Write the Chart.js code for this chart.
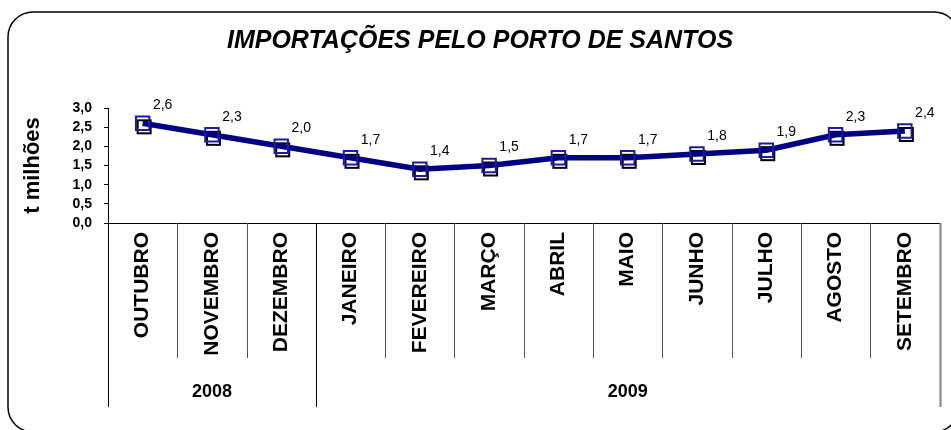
<!DOCTYPE html>
<html>
<head>
<meta charset="utf-8">
<script src="https://cdn.jsdelivr.net/npm/chart.js@4/dist/chart.umd.min.js"></script>
<style>
    body { margin: 0; background: #fff; }
    #wrap { width: 951px; height: 430px; position: relative; }
</style>
</head>
<body>
<div id="wrap"><canvas id="grafico"></canvas></div>
<script>
const TITULO = "IMPORTAÇÕES PELO PORTO DE SANTOS";
const EIXO_Y = "t milhões";

const meses = [
    "OUTUBRO", "NOVEMBRO", "DEZEMBRO", "JANEIRO", "FEVEREIRO", "MARÇO",
    "ABRIL", "MAIO", "JUNHO", "JULHO", "AGOSTO", "SETEMBRO"
];
const valores = [2.6, 2.3, 2.0, 1.7, 1.4, 1.5, 1.7, 1.7, 1.8, 1.9, 2.3, 2.4];
const anos = ["2008", "2009"];
const mesesPorAno = [3, 9];

const FONTE = 'Arial, "Liberation Sans", sans-serif';

function virgula(v) {
    return v.toFixed(1).replace(".", ",");
}

// moldura arredondada e titulo
const moldura = {
    id: "moldura",
    afterDraw(chart) {
        const ctx = chart.ctx;
        ctx.save();
        ctx.strokeStyle = "#000";
        ctx.lineWidth = 1.5;
        ctx.beginPath();
        ctx.roundRect(8, 12, 951, 420, 25);
        ctx.stroke();

        ctx.fillStyle = "#000";
        ctx.font = "italic bold 25px " + FONTE;
        ctx.textAlign = "center";
        ctx.textBaseline = "middle";
        ctx.fillText(TITULO, 480, 41);
        ctx.restore();
    }
};

// linhas divisorias entre meses e anos + rotulos dos anos
const divisorias = {
    id: "divisorias",
    afterDraw(chart) {
        const x = chart.scales.x;
        const ctx = chart.ctx;
        const base = chart.chartArea.bottom;
        const meia = (x.getPixelForValue(1) - x.getPixelForValue(0)) / 2;
        const inicioAno = [0];
        mesesPorAno.forEach(n => inicioAno.push(inicioAno[inicioAno.length - 1] + n));

        ctx.save();
        for (let i = 0; i <= meses.length; i++) {
            const px = Math.round(x.getPixelForValue(i) - meia) + 0.5;
            const ehAno = inicioAno.includes(i);
            ctx.strokeStyle = i === meses.length ? "#808080" : (ehAno ? "#000" : "#555");
            ctx.lineWidth = i === meses.length ? 2 : 1;
            ctx.beginPath();
            ctx.moveTo(px, base);
            ctx.lineTo(px, ehAno ? 407 : 358);
            ctx.stroke();
        }

        ctx.fillStyle = "#000";
        ctx.font = "bold 18px " + FONTE;
        ctx.textAlign = "center";
        ctx.textBaseline = "middle";
        anos.forEach((ano, k) => {
            const a = x.getPixelForValue(inicioAno[k]) - meia;
            const b = x.getPixelForValue(inicioAno[k + 1] - 1) + meia;
            ctx.fillText(ano, (a + b) / 2, 392);
        });
        ctx.restore();
    }
};

// sombra preta dos marcadores
const sombra = {
    id: "sombra",
    beforeDatasetsDraw(chart) {
        const ctx = chart.ctx;
        const pts = chart.getDatasetMeta(0).data;
        ctx.save();
        ctx.strokeStyle = "#000";
        ctx.lineWidth = 2;
        pts.forEach(p => {
            ctx.strokeRect(p.x - 5, p.y - 3, 13, 13);
        });
        ctx.restore();
    }
};

// rotulos de valor
const rotulos = {
    id: "rotulos",
    afterDatasetsDraw(chart) {
        const ctx = chart.ctx;
        const pts = chart.getDatasetMeta(0).data;
        ctx.save();
        ctx.fillStyle = "#000";
        ctx.font = "14px " + FONTE;
        ctx.textAlign = "center";
        ctx.textBaseline = "middle";
        pts.forEach((p, i) => {
            ctx.fillText(virgula(valores[i]), p.x + 20, p.y - 18);
        });
        ctx.restore();
    }
};

const ctx = document.getElementById("grafico").getContext("2d");
const chart = new Chart(ctx, {
    type: "line",
    data: {
        labels: meses,
        datasets: [{
            label: "Importações",
            data: valores,
            borderColor: "#000080",
            borderWidth: 5.5,
            pointStyle: "rect",
            pointRadius: 9.5,
            pointBorderWidth: 2,
            pointBorderColor: "#1c1c9c",
            pointBackgroundColor: "transparent",
            tension: 0
        }]
    },
    options: {
        responsive: true,
        maintainAspectRatio: false,
        animation: false,
        layout: { padding: { top: 108, right: 6, bottom: 0, left: 0 } },
        plugins: {
            legend: { display: false },
            title: { display: false },
            tooltip: { enabled: false }
        },
        scales: {
            x: {
                offset: true,
                grid: { display: false, drawTicks: false },
                border: { color: "#000", width: 1 },
                ticks: {
                    autoSkip: false,
                    minRotation: 90,
                    maxRotation: 90,
                    padding: 9,
                    color: "#000",
                    font: { family: FONTE, size: 21, weight: "bold" }
                },
                afterFit(s) {
                    s.height = 207;
                    s.paddingLeft = 0;
                    s.paddingRight = 0;
                }
            },
            y: {
                min: 0,
                max: 3,
                grid: { drawOnChartArea: false, tickLength: 4, color: "#000" },
                border: { color: "#000", width: 1 },
                ticks: {
                    stepSize: 0.5,
                    autoSkip: false,
                    padding: 12,
                    color: "#000",
                    font: { family: FONTE, size: 14, weight: "bold" },
                    callback: v => virgula(v)
                },
                title: {
                    display: true,
                    text: EIXO_Y,
                    color: "#000",
                    padding: { top: 20, bottom: 0 },
                    font: { family: FONTE, size: 22, weight: "bold" }
                },
                afterFit(s) {
                    s.width = 108;
                }
            }
        }
    },
    plugins: [moldura, divisorias, sombra, rotulos]
});
</script>
</body>
</html>
